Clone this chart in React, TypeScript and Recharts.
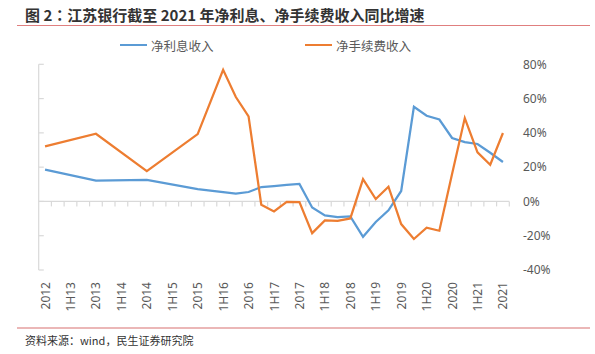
import React from "react";
import { LineChart, Line, XAxis, YAxis, ReferenceLine, Legend } from "recharts";

const categories = [
  "2012", "1Q13", "1H13", "3Q13", "2013", "1Q14", "1H14", "3Q14", "2014",
  "1Q15", "1H15", "3Q15", "2015", "1Q16", "1H16", "3Q16", "2016",
  "1Q17", "1H17", "3Q17", "2017", "1Q18", "1H18", "3Q18", "2018",
  "1Q19", "1H19", "3Q19", "2019", "1Q20", "1H20", "3Q20", "2020",
  "1Q21", "1H21", "3Q21", "2021",
];

// 净利息收入 同比 (%)
const netInterest = [
  18.5, null, null, null, 12.2, null, null, null, 12.6,
  null, null, null, 7.2, null, 5.4, 4.5, 5.5,
  8.4, 9.0, 9.6, 10.2, -3.5, -8.2, -9.1, -8.7,
  -20.6, -12.0, -5.2, 6.1, 55.2, 50.0, 47.8, 37.0,
  34.6, 33.5, 28.4, 23.0,
];

// 净手续费收入 同比 (%)
const netFee = [
  32.1, null, null, null, 39.5, null, null, null, 17.7,
  null, null, null, 39.3, null, 76.8, 60.9, 49.6,
  -1.9, -5.8, -0.2, -0.4, -18.5, -11.1, -11.4, -9.9,
  13.0, 1.4, 8.6, -13.2, -21.9, -15.3, -17.1, 16.0,
  48.6, 28.6, 21.4, 39.9,
];

const yTicks = [-40, -20, 0, 20, 40, 60, 80];
const xTicks = categories.map((_, i) => i).filter((i) => i % 2 === 0);
const boundaries = categories.map((_, i) => i + 0.5);

const data = categories.map((name, i) => ({
  i,
  name,
  netInterest: netInterest[i],
  netFee: netFee[i],
}));

const AXIS = "#d9d9d9";
const TEXT = "#595959";
const LATIN = "'Noto Sans', 'Noto Sans CJK SC', sans-serif";
const CJK = "'Noto Sans CJK SC', 'Noto Sans', sans-serif";

const XTick = (props: any) => {
  const { x, y, payload } = props;
  return (
    <text
      x={x}
      y={y}
      transform={`rotate(-90 ${x} ${y})`}
      textAnchor="end"
      dominantBaseline="central"
      fontSize={12}
      fontFamily={LATIN}
      fill={TEXT}
    >
      {categories[payload.value]}
    </text>
  );
};

const renderLegend = (props: any) => (
  <div style={{ position: "relative", height: 18 }}>
    {props.payload.map((p: any, k: number) => (
      <div
        key={k}
        style={{ position: "absolute", left: 120 + k * 185, top: 0, height: 18, display: "flex", alignItems: "center", whiteSpace: "nowrap" }}
      >
        <span style={{ display: "inline-block", width: 27, height: 2.5, background: p.color, marginRight: 4 }} />
        <span style={{ fontSize: 12.5, color: TEXT, fontFamily: CJK }}>{p.value}</span>
      </div>
    ))}
  </div>
);

export default function App() {
  return (
    <div style={{ position: "absolute", left: 0, top: 0, width: 595, height: 354, background: "#fff", overflow: "hidden" }}>
      <div style={{ position: "absolute", left: 25, top: 5, fontSize: 15, fontWeight: 700, lineHeight: "20px", color: "#333", fontFamily: CJK, whiteSpace: "nowrap" }}>
        图 2<span style={{ fontFamily: "'Noto Sans CJK TC', sans-serif" }}>：</span>江苏银行截至 2021 年净利息、净手续费收入同比增速
      </div>
      <div style={{ position: "absolute", left: 17, top: 24.5, width: 573, height: 1.6, background: "#e07f7f" }} />

      <LineChart
        width={595}
        height={354}
        data={data}
        margin={{ top: 64.3, right: 45.7, bottom: 44, left: 38.7 }}
      >
        <XAxis
          dataKey="i"
          type="number"
          domain={[-0.5, 36.5]}
          ticks={xTicks}
          interval={0}
          axisLine={false}
          tickLine={false}
          tickSize={0}
          tickMargin={12}
          height={40}
          tick={<XTick />}
          allowDataOverflow
        />
        <YAxis
          orientation="right"
          domain={[-40, 80]}
          ticks={yTicks}
          axisLine={false}
          tickLine={false}
          tickSize={0}
          tickMargin={13.7}
          width={40}
          tickFormatter={(v: number) => `${v}%`}
          tick={{ fontSize: 12, fill: TEXT, fontFamily: LATIN, textAnchor: "start" }}
        />
        <ReferenceLine x={-0.5} stroke={AXIS} strokeWidth={1.2} ifOverflow="visible" />
        {yTicks.map((v) => (
          <ReferenceLine
            key={`yt${v}`}
            segment={[{ x: -0.5, y: v }, { x: -0.1, y: v }]}
            stroke={AXIS}
            strokeWidth={1.2}
            ifOverflow="visible"
          />
        ))}
        <ReferenceLine y={0} stroke={AXIS} strokeWidth={1.2} ifOverflow="visible" />
        {boundaries.map((b) => (
          <ReferenceLine
            key={`xt${b}`}
            segment={[{ x: b, y: 0 }, { x: b, y: -2.9 }]}
            stroke={AXIS}
            strokeWidth={1.2}
            ifOverflow="visible"
          />
        ))}
        <Legend
          verticalAlign="middle"
          align="center"
          layout="horizontal"
          content={renderLegend}
          wrapperStyle={{ top: 36, left: 0, width: 595 }}
        />
        <Line
          name="净利息收入"
          dataKey="netInterest"
          stroke="#5B9BD5"
          strokeWidth={2.25}
          dot={false}
          connectNulls
          isAnimationActive={false}
        />
        <Line
          name="净手续费收入"
          dataKey="netFee"
          stroke="#ED7D31"
          strokeWidth={2.25}
          dot={false}
          connectNulls
          isAnimationActive={false}
        />
      </LineChart>

      <div style={{ position: "absolute", left: 17, top: 326.8, width: 573, height: 1.8, background: "#ebb7b7" }} />
      <div style={{ position: "absolute", left: 25, top: 332, fontSize: 11, lineHeight: "16px", color: "#333", fontFamily: CJK, whiteSpace: "nowrap" }}>
        资料来源：wind，民生证券研究院
      </div>
    </div>
  );
}
